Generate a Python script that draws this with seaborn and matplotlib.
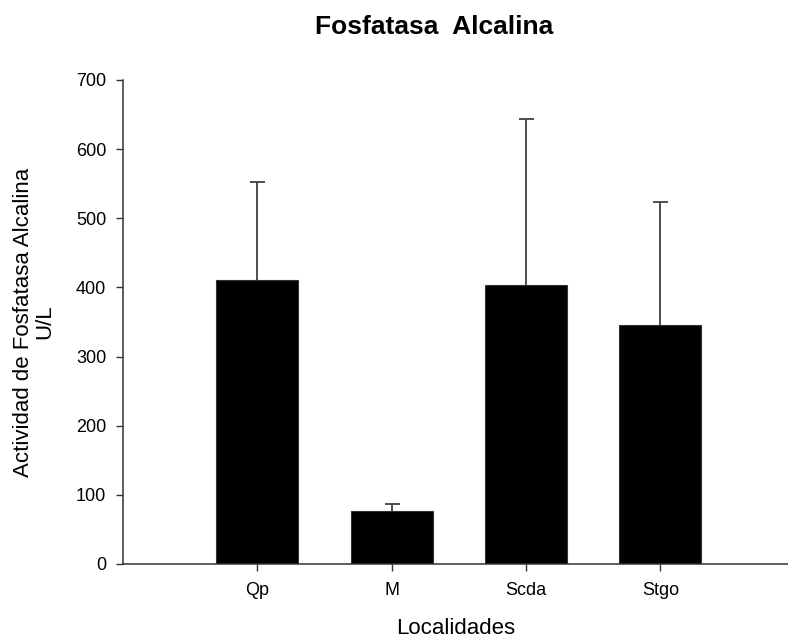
import matplotlib
matplotlib.use("Agg")
import matplotlib.pyplot as plt
import seaborn as sns
import pandas as pd
import numpy as np

categories = ["Qp", "M", "Scda", "Stgo"]
means = [411, 77, 403, 345]
upper = [553, 87, 644, 524]

sns.set_style("ticks")
plt.rcParams["font.family"] = ["Liberation Sans", "DejaVu Sans"]
plt.rcParams["text.color"] = "black"
plt.rcParams["axes.labelcolor"] = "black"
plt.rcParams["xtick.color"] = "black"
plt.rcParams["ytick.color"] = "black"

df = pd.DataFrame({"Localidad": categories, "Actividad": means})

fig = plt.figure(figsize=(7.88, 6.41), dpi=100)
ax = fig.add_axes([123 / 788, 77 / 641, 665 / 788, 484 / 641])

sns.barplot(data=df, x="Localidad", y="Actividad", order=categories,
            color="black", edgecolor="#333333", linewidth=0.8,
            width=0.61, errorbar=None, saturation=1, ax=ax, zorder=2)

pos = np.arange(len(categories))
err = np.array(upper) - np.array(means)
eb = ax.errorbar(pos, means, yerr=[np.zeros_like(err), err], fmt="none",
                 ecolor="#404040", elinewidth=1.3, capsize=5.4,
                 capthick=1.3, zorder=1)
caplines = eb[1]
if len(caplines) == 2:
    caplines[0].set_visible(False)

ax.set_xlim(-1.0, 3.95)
ax.set_ylim(0, 700)
ax.set_yticks(range(0, 701, 100))

for s in ["top", "right"]:
    ax.spines[s].set_visible(False)
for s in ["left", "bottom"]:
    ax.spines[s].set_color("#333333")
    ax.spines[s].set_linewidth(1.1)
ax.tick_params(axis="both", length=5, width=1.0, color="#333333",
               labelsize=13, labelcolor="black")
ax.tick_params(axis="x", pad=8)
ax.tick_params(axis="y", pad=7)

ax.set_xlabel("Localidades", fontsize=16, labelpad=14)
ax.set_ylabel("Actividad de Fosfatasa Alcalina\nU/L", fontsize=16,
              labelpad=15, linespacing=1.0)
fig.text(434 / 788, 1 - 34 / 641, "Fosfatasa  Alcalina", ha="center",
         va="baseline", fontsize=19, fontweight="bold")

fig.savefig("out.png", dpi=100)
